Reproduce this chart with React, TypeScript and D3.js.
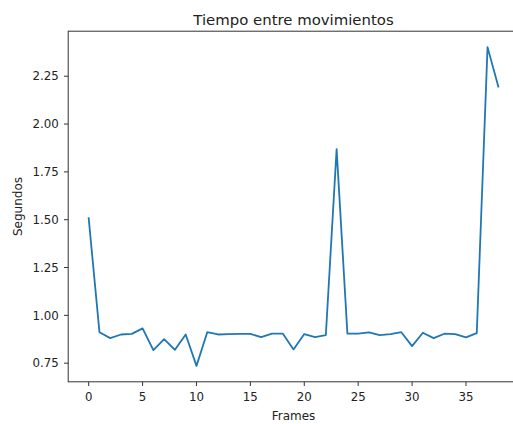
import React from "react";
import * as d3 from "d3";

const frames: number[] = Array.from({ length: 39 }, (_, i) => i);
const segundos: number[] = [
  1.508, 0.912, 0.881, 0.9, 0.903, 0.932, 0.818, 0.876, 0.82, 0.9,
  0.736, 0.912, 0.9, 0.902, 0.903, 0.903, 0.886, 0.905, 0.905, 0.822,
  0.902, 0.886, 0.897, 1.869, 0.905, 0.905, 0.911, 0.897, 0.902, 0.912,
  0.839, 0.909, 0.881, 0.904, 0.902, 0.885, 0.907, 2.402, 2.196,
];
const xTicks: number[] = [0, 5, 10, 15, 20, 25, 30, 35];
const yTicks: number[] = [0.75, 1.0, 1.25, 1.5, 1.75, 2.0, 2.25];
const title = "Tiempo entre movimientos";
const xLabel = "Frames";
const yLabel = "Segundos";

const W = 513;
const H = 424;
const left = 68.2;
const right = 518.8;
const top = 31.2;
const bottom = 381.8;
const FONT = "DejaVu Sans, sans-serif";
const TICK_FS = 11.8;
const LABEL_FS = 12;
const TITLE_FS = 14.9;
const TEXT = "#222";

export default function App() {
  const xMin = d3.min(frames)!;
  const xMax = d3.max(frames)!;
  const yMin = d3.min(segundos)!;
  const yMax = d3.max(segundos)!;
  const xm = (xMax - xMin) * 0.05;
  const ym = (yMax - yMin) * 0.05;
  const x = d3.scaleLinear().domain([xMin - xm, xMax + xm]).range([left, right]);
  const y = d3.scaleLinear().domain([yMin - ym, yMax + ym]).range([bottom, top]);
  const line = d3
    .line<number>()
    .x((_, i) => x(frames[i]))
    .y((d) => y(d));
  const cx = (left + right) / 2;
  const cy = (top + bottom) / 2;

  return (
    <svg
      width={W}
      height={H}
      style={{ position: "absolute", left: 0, top: 0, background: "#fff" }}
      fontFamily={FONT}
    >
      <rect x={0} y={0} width={W} height={H} fill="#fff" />
      <path d={line(segundos) || ""} fill="none" stroke="#1f77b4" strokeWidth={1.8} strokeLinejoin="round" strokeLinecap="square" />
      <rect x={left} y={top} width={right - left} height={bottom - top} fill="none" stroke="#333" strokeWidth={1} />
      {xTicks.map((t) => (
        <g key={"x" + t}>
          <line x1={x(t)} x2={x(t)} y1={bottom} y2={bottom + 4.2} stroke="#333" strokeWidth={1} />
          <text x={x(t)} y={400.5} textAnchor="middle" fontSize={TICK_FS} fill={TEXT}>
            {t}
          </text>
        </g>
      ))}
      {yTicks.map((t) => (
        <g key={"y" + t}>
          <line x1={left - 4.2} x2={left} y1={y(t)} y2={y(t)} stroke="#333" strokeWidth={1} />
          <text x={left - 9.5} y={y(t)} dy="0.36em" textAnchor="end" fontSize={TICK_FS} fill={TEXT}>
            {t.toFixed(2)}
          </text>
        </g>
      ))}
      <text x={cx} y={24.5} textAnchor="middle" fontSize={TITLE_FS} fill={TEXT}>
        {title}
      </text>
      <text x={cx} y={419.5} textAnchor="middle" fontSize={LABEL_FS} fill={TEXT}>
        {xLabel}
      </text>
      <text
        transform={`translate(${22},${cy}) rotate(-90)`}
        textAnchor="middle"
        fontSize={LABEL_FS}
        fill={TEXT}
      >
        {yLabel}
      </text>
    </svg>
  );
}
